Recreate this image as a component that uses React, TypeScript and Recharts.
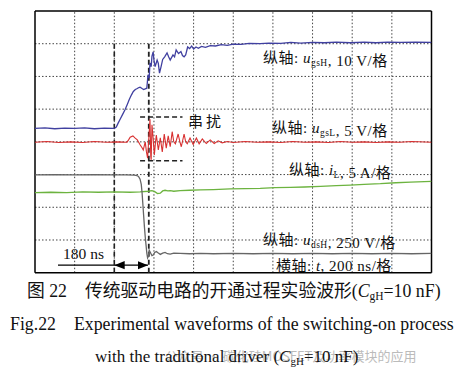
import React from "react";
import { ComposedChart, Line, XAxis, YAxis, ReferenceLine } from "recharts";

// Scope capture, turn-on with the traditional driver. Units are screen
// divisions: 10 across (200 ns each), 8 high.
const gridX = [1, 2, 3, 4, 5, 6, 7, 8, 9];
const gridY = [1, 2, 3, 4, 5, 6, 7];

const ugsH: [number, number][] = [
  [0, 4.41], [0.25, 4.43], [0.5, 4.4], [0.75, 4.42], [1, 4.41], [1.25, 4.43], [1.5, 4.4], [1.75, 4.42],
  [2, 4.41], [2.05, 4.45], [2.1, 4.58], [2.15, 4.7], [2.21, 4.84], [2.27, 4.98], [2.33, 5.15], [2.38, 5.3],
  [2.43, 5.43], [2.48, 5.54], [2.53, 5.6], [2.58, 5.63], [2.62, 5.66], [2.65, 5.67], [2.7, 5.63], [2.74, 5.6],
  [2.78, 5.62], [2.82, 5.64], [2.85, 6.05], [2.88, 5.95], [2.9, 6.41], [2.93, 6.3], [2.95, 6.62], [2.98, 6.75],
  [3.0, 6.5], [3.03, 6.3], [3.08, 6.5], [3.11, 6.4], [3.14, 6.1], [3.18, 6.3], [3.22, 6.52], [3.27, 6.6],
  [3.33, 6.72], [3.37, 6.6], [3.41, 6.5], [3.48, 6.66], [3.52, 6.6], [3.56, 6.81], [3.62, 6.7], [3.68, 6.76],
  [3.72, 6.64], [3.76, 6.6], [3.8, 6.66], [3.85, 6.9], [3.9, 6.85], [3.95, 6.93], [4.0, 6.84], [4.06, 6.9],
  [4.12, 6.86], [4.2, 6.92], [4.3, 6.89], [4.42, 6.94], [4.55, 6.93], [4.7, 6.97], [4.85, 6.95], [5.0, 6.99],
  [5.2, 6.98], [5.4, 7.01], [5.68, 7.0], [5.9, 7.02], [6.2, 7.01], [6.45, 7.04], [6.7, 7.02], [7.0, 7.04],
  [7.3, 7.03], [7.6, 7.05], [7.95, 7.03], [8.3, 7.05], [8.6, 7.03], [8.9, 7.05], [9.22, 7.04], [9.6, 7.05],
  [10, 7.04],
];

const ugsL: [number, number][] = [
  [0, 3.99], [0.3, 4.01], [0.6, 3.98], [0.9, 4.0], [1.2, 3.98], [1.5, 4.01], [1.8, 3.99], [2.1, 4.0],
  [2.32, 3.99], [2.36, 4.06], [2.4, 4.14], [2.47, 4.18], [2.52, 4.12], [2.58, 4.06], [2.65, 3.91], [2.7, 3.82],
  [2.73, 3.75], [2.76, 3.9], [2.78, 4.0], [2.81, 3.7], [2.84, 3.5], [2.87, 4.1], [2.9, 4.69], [2.92, 3.55],
  [2.93, 3.45], [2.95, 4.52], [2.98, 4.1], [3.01, 3.6], [3.04, 4.0], [3.06, 4.21], [3.11, 3.75], [3.16, 4.12],
  [3.21, 3.69], [3.26, 4.24], [3.31, 3.81], [3.36, 4.18], [3.41, 3.85], [3.46, 4.31], [3.5, 4.0], [3.54, 3.94],
  [3.61, 4.24], [3.65, 4.02], [3.69, 3.85], [3.76, 4.24], [3.8, 4.0], [3.84, 3.94], [3.91, 4.12], [3.99, 3.92],
  [4.07, 4.12], [4.14, 3.94], [4.22, 4.09], [4.32, 3.95], [4.42, 4.06], [4.52, 3.95], [4.62, 4.03], [4.72, 3.97],
  [4.85, 4.01], [5.0, 3.98], [5.3, 4.01], [5.6, 3.99], [5.9, 4.0], [6.2, 3.98], [6.5, 4.01], [6.8, 3.99],
  [7.1, 4.0], [7.4, 3.98], [7.7, 4.01], [8.0, 3.99], [8.3, 4.0], [8.6, 3.98], [8.9, 4.0], [9.2, 3.99],
  [9.5, 4.01], [10, 3.99],
];

const udsH: [number, number][] = [
  [0, 2.99], [0.5, 3.0], [1, 2.99], [1.5, 3.0], [2, 2.99], [2.3, 2.99], [2.5, 2.98], [2.57, 2.97],
  [2.61, 2.94], [2.65, 2.86], [2.68, 2.7], [2.7, 2.45], [2.72, 2.1], [2.74, 1.75], [2.76, 1.4], [2.78, 1.1],
  [2.8, 0.85], [2.82, 0.6], [2.84, 0.45], [2.86, 0.5], [2.88, 0.69], [2.91, 0.62], [2.95, 0.52], [2.98, 0.54],
  [3.02, 0.62], [3.06, 0.65], [3.11, 0.6], [3.16, 0.56], [3.22, 0.6], [3.28, 0.62], [3.34, 0.58], [3.41, 0.57],
  [3.5, 0.6], [3.66, 0.59], [3.9, 0.58], [4.17, 0.59], [4.5, 0.58], [5, 0.59], [5.5, 0.58], [6, 0.59],
  [6.5, 0.58], [7, 0.59], [7.5, 0.58], [8, 0.59], [8.5, 0.58], [9, 0.59], [9.5, 0.58], [10, 0.59],
];

const iL: [number, number][] = [
  [0, 2.45], [0.4, 2.46], [0.8, 2.45], [1.2, 2.47], [1.6, 2.46], [2.0, 2.47], [2.4, 2.46], [2.65, 2.47],
  [2.85, 2.49], [2.95, 2.51], [3.03, 2.47], [3.09, 2.42], [3.16, 2.43], [3.22, 2.5], [3.28, 2.52], [3.35, 2.5],
  [3.41, 2.51], [3.5, 2.49], [3.66, 2.51], [3.9, 2.52], [4.17, 2.53], [4.5, 2.54], [4.92, 2.56], [5.3, 2.57],
  [5.68, 2.58], [6.05, 2.6], [6.44, 2.61], [6.8, 2.62], [7.2, 2.64], [7.6, 2.66], [7.95, 2.68], [8.3, 2.7],
  [8.71, 2.72], [9.1, 2.75], [9.47, 2.77], [10, 2.79],
];

// markers: turn-on command, end of delay, crosstalk band
const tStart = 2;
const tEnd = 2.87;
const xtalkTop = 4.76;
const xtalkBottom = 3.42;

const pts = (a: [number, number][]) => a.map(([x, y]) => ({ x, y }));

const SERIF = "'Liberation Serif', 'Noto Sans CJK SC', serif";
const DASH = "5 3";

function ArrowLine(props: any) {
  const { x1, y1, x2, y2, start, end } = props;
  return (
    <line
      x1={x1}
      y1={y1}
      x2={x2}
      y2={y2}
      stroke="#000"
      strokeWidth={1.3}
      markerStart={start ? "url(#arrL)" : undefined}
      markerEnd={end ? "url(#arrR)" : undefined}
    />
  );
}

function Sub({ main, sub, italic }: { main: string; sub: string; italic?: boolean }) {
  return (
    <>
      <tspan fontStyle={italic ? "italic" : undefined}>{main}</tspan>
      <tspan fontSize={9.5} dy={3}>{sub}</tspan>
      <tspan dy={-3}></tspan>
    </>
  );
}

export default function App() {
  return (
    <div style={{ position: "fixed", left: 0, top: 0, width: 467, height: 375, background: "#fff" }}>
      <svg width={0} height={0} style={{ position: "absolute" }}>
        <defs>
          <marker id="arrR" viewBox="0 0 10 10" refX={10} refY={5} markerWidth={8} markerHeight={8} orient="auto">
            <path d="M0,1 L10,5 L0,9 z" fill="#000" />
          </marker>
          <marker id="arrL" viewBox="0 0 10 10" refX={0} refY={5} markerWidth={8} markerHeight={8} orient="auto">
            <path d="M10,1 L0,5 L10,9 z" fill="#000" />
          </marker>
        </defs>
      </svg>
      <ComposedChart width={467} height={375} margin={{ top: 11, right: 35.5, bottom: 102.3, left: 35 }}>
        <XAxis type="number" dataKey="x" domain={[0, 10]} hide allowDataOverflow />
        <YAxis type="number" dataKey="y" domain={[0, 8]} hide allowDataOverflow />
        {gridX.map((v) => (
          <ReferenceLine key={"gx" + v} x={v} stroke="#444" strokeDasharray="1.5 2" strokeWidth={1} />
        ))}
        {gridY.map((v) => (
          <ReferenceLine key={"gy" + v} y={v} stroke="#444" strokeDasharray="1.5 2" strokeWidth={1} />
        ))}
        <ReferenceLine x={0} stroke="#000" strokeWidth={1.5} />
        <ReferenceLine x={10} stroke="#000" strokeWidth={1.5} />
        <ReferenceLine y={0} stroke="#000" strokeWidth={1.5} />
        <ReferenceLine y={8} stroke="#000" strokeWidth={1.5} />

        <ReferenceLine segment={[{ x: tStart, y: 7 }, { x: tStart, y: 0 }]} stroke="#222" strokeWidth={1.6} strokeDasharray={DASH} />
        <ReferenceLine segment={[{ x: tEnd, y: 7 }, { x: tEnd, y: 0 }]} stroke="#222" strokeWidth={1.8} strokeDasharray={DASH} />
        <ReferenceLine segment={[{ x: 2.65, y: xtalkTop }, { x: 3.72, y: xtalkTop }]} stroke="#222" strokeWidth={1.5} strokeDasharray={DASH} />
        <ReferenceLine segment={[{ x: 2.65, y: xtalkBottom }, { x: 3.72, y: xtalkBottom }]} stroke="#222" strokeWidth={1.5} strokeDasharray={DASH} />

        <ReferenceLine segment={[{ x: 0.58, y: 0.23 }, { x: tStart, y: 0.23 }]} shape={(p: any) => <ArrowLine {...p} />} />
        <ReferenceLine segment={[{ x: tStart, y: 0.23 }, { x: tEnd - 0.02, y: 0.23 }]} shape={(p: any) => <ArrowLine {...p} start end />} />

        <Line data={pts(iL)} dataKey="y" type="linear" stroke="#6cb33f" strokeWidth={1.3} dot={false} isAnimationActive={false} />
        <Line data={pts(udsH)} dataKey="y" type="linear" stroke="#666" strokeWidth={1.3} dot={false} isAnimationActive={false} />
        <Line data={pts(ugsL)} dataKey="y" type="linear" stroke="#d83030" strokeWidth={1.1} dot={false} isAnimationActive={false} />
        <Line data={pts(ugsH)} dataKey="y" type="linear" stroke="#4040a0" strokeWidth={1.3} dot={false} isAnimationActive={false} />
      </ComposedChart>

      <svg width={467} height={375} style={{ position: "absolute", left: 0, top: 0, pointerEvents: "none" }} fontFamily={SERIF}>
        <g fontSize={15} fill="#111" letterSpacing={0.5}>
          <text x={263} y={63}>纵轴: <Sub main="u" sub="gsH" italic />, 10 V/格</text>
          <text x={272} y={133}>纵轴: <Sub main="u" sub="gsL" italic />, 5 V/格</text>
          <text x={289} y={175}>纵轴: <Sub main="i" sub="L" italic />, 5 A/格</text>
          <text x={263} y={245}>纵轴: <Sub main="u" sub="dsH" italic />,  250 V/格</text>
          <text x={276} y={271}>横轴: <tspan fontStyle="italic">t</tspan>, 200 ns/格</text>
          <text x={63} y={259} fontSize={15.5} letterSpacing={0}>180 ns</text>
          <text x={188} y={127} fontSize={15} letterSpacing={3}>串扰</text>
        </g>
        <text x={165} y={361} fontSize={13} fill="#bbb" fontFamily="'Noto Sans CJK SC', sans-serif">公众号 · 碳化硅MOSFET及功率模块的应用</text>
        <g fill="#111" fontSize={17.8}>
          <text x={27} y={297}>
            图 22<tspan dx={18}>传统驱动电路的开通过程实验波形(</tspan>
            <tspan fontStyle="italic">C</tspan><tspan fontSize={11.5} dy={3}>gH</tspan><tspan dy={-3}>=10 nF)</tspan>
          </text>
          <text x={10} y={330}>
            Fig.22<tspan dx={18}>Experimental waveforms of the switching-on process</tspan>
          </text>
          <text x={95} y={362} fontSize={17}>
            with the traditional driver (<tspan fontStyle="italic">C</tspan><tspan fontSize={11} dy={3}>gH</tspan><tspan dy={-3}>=10 nF)</tspan>
          </text>
        </g>
      </svg>
    </div>
  );
}
